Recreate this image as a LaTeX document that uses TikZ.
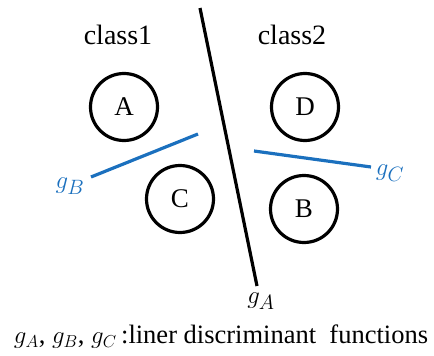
\documentclass[tikz,border=0pt]{standalone}
\usepackage{fontspec}
\setmainfont{Liberation Serif}
\usepackage{tikz}
\usetikzlibrary{positioning}
\definecolor{cblue}{RGB}{27,112,190}

\begin{document}
\begin{tikzpicture}[x=1pt, y=-1pt,
  cls/.style={circle, draw, line width=3.2pt, minimum size=67pt, inner sep=0pt,
              font=\fontsize{27}{30}\selectfont},
  lbl/.style={font=\fontsize{28}{32}\selectfont, inner sep=0pt},
  glbl/.style={font=\fontsize{31}{34}\selectfont, inner sep=0pt},
  sep/.style={line width=3.2pt, draw=black},
  sepb/.style={line width=3.2pt, draw=cblue}]
\useasboundingbox (0,0) rectangle (434,356);
% class headings
\node[lbl] (class1) at (118,35) {class1};
\node[lbl] (class2) at (292,35) {class2};
% classes
\node[cls] (A) at (124,107) {A};
\node[cls] (D) at (305,107) {D};
\node[cls] (C) at (180,199) {C};
\node[cls] (B) at (304,209) {B};
% discriminant lines
\coordinate (gAtop) at (200,8);
\coordinate (gAbot) at (257,286);
\coordinate (gBleft) at (91,177);
\coordinate (gBright) at (198,134);
\coordinate (gCleft) at (254,151);
\coordinate (gCright) at (371,167);
\draw[sep] (gAtop) -- (gAbot);
\draw[sepb] (gBleft) -- (gBright);
\draw[sepb] (gCleft) -- (gCright);
\node[glbl] (gA) at (261,301) {$g_A$};
\node[glbl, text=cblue] (gB) at (70,186) {$g_B$};
\node[glbl, text=cblue] (gC) at (390,173) {$g_C$};
% legend
\node[lbl, font=\fontsize{26.5}{30}\selectfont] (note) at (221,337)
  {$g_A$, $g_B$, $g_C$\,:liner discriminant~~functions};
\end{tikzpicture}
\end{document}
